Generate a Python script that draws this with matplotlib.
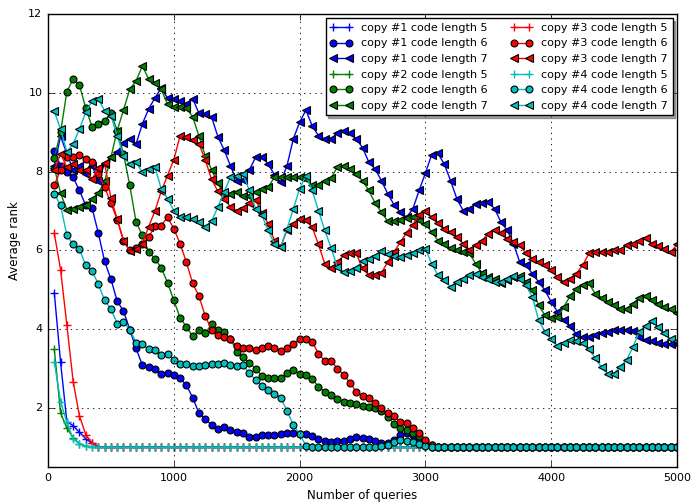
import numpy as np
import matplotlib
matplotlib.use("Agg")
import matplotlib.pyplot as plt

plt.style.use("classic")

# Number of queries at which the average rank was recorded
queries = np.arange(50, 5001, 50)

# ---- copy #1 ----
c1_len5 = [4.92, 3.16, 1.65, 1.55, 1.38, 1.22, 1.10, 1.02] + [1.0] * 92
c1_len6 = ([8.53, 8.15, 8.00, 7.85, 7.52, 7.14, 7.08, 6.44, 5.72, 5.27,
            4.71, 4.46, 3.99, 3.51, 3.09, 3.03, 3.00, 2.86, 2.89, 2.84,
            2.75, 2.58, 2.26, 1.87, 1.71, 1.57, 1.46, 1.51, 1.43, 1.40,
            1.36, 1.26, 1.27, 1.30, 1.32, 1.32, 1.33, 1.36, 1.36, 1.34,
            1.34, 1.28, 1.21, 1.16, 1.14, 1.16, 1.15, 1.21, 1.26, 1.24,
            1.21, 1.16, 1.12, 1.10, 1.18, 1.30, 1.37, 1.30, 1.15, 1.05]
           + [1.0] * 40)
c1_len7 = [8.15, 8.90, 8.45, 8.05, 8.15, 7.95, 8.15, 7.77, 8.20, 8.36,
           8.49, 8.72, 8.83, 8.70, 9.21, 9.59, 9.87, 10.12, 9.87, 9.84,
           9.78, 9.72, 9.85, 9.48, 9.45, 9.39, 8.89, 8.55, 8.15, 7.77,
           7.79, 8.04, 8.36, 8.38, 8.19, 7.92, 7.73, 8.15, 8.83, 9.25,
           9.56, 9.16, 8.91, 8.83, 8.83, 8.97, 9.04, 8.97, 8.83, 8.61,
           8.24, 8.07, 7.77, 7.44, 7.16, 6.97, 6.84, 7.05, 7.52, 7.96,
           8.43, 8.46, 8.19, 7.77, 7.31, 7.01, 7.06, 7.18, 7.20, 7.22,
           7.06, 6.72, 6.51, 6.17, 5.70, 5.62, 5.41, 5.20, 4.99, 4.69,
           4.44, 4.23, 4.08, 3.87, 3.79, 3.81, 3.85, 3.89, 3.92, 3.97,
           3.99, 3.99, 3.96, 3.81, 3.72, 3.69, 3.64, 3.63, 3.62, 3.62]

# ---- copy #2 ----
c2_len5 = [3.49, 1.87, 1.49, 1.24, 1.09, 1.03, 1.01] + [1.0] * 93
c2_len6 = ([8.34, 9.00, 10.03, 10.35, 10.20, 9.61, 9.14, 9.22, 9.29, 9.48,
            9.04, 8.45, 7.65, 6.72, 6.38, 5.96, 5.79, 5.56, 5.18, 4.73,
            4.29, 4.06, 3.82, 3.97, 3.89, 4.13, 3.97, 3.92, 3.76, 3.43,
            3.30, 3.15, 3.00, 2.81, 2.75, 2.77, 2.77, 2.88, 2.96, 2.86,
            2.84, 2.73, 2.54, 2.41, 2.32, 2.23, 2.16, 2.12, 2.09, 2.06,
            2.03, 2.00, 1.93, 1.78, 1.59, 1.49, 1.44, 1.36, 1.28, 1.15,
            1.05] + [1.0] * 39)
c2_len7 = [8.10, 7.45, 7.03, 7.06, 7.11, 7.14, 7.30, 7.45, 7.75, 8.36,
           9.04, 9.56, 10.09, 10.30, 10.68, 10.35, 10.26, 10.09, 9.71, 9.63,
           9.63, 9.61, 9.39, 8.90, 8.40, 8.05, 7.70, 7.44, 7.44, 7.48,
           7.39, 7.39, 7.48, 7.55, 7.60, 7.86, 7.86, 7.86, 7.86, 7.86,
           7.82, 7.65, 7.67, 7.77, 7.84, 8.11, 8.13, 8.07, 7.94, 7.77,
           7.52, 7.20, 6.97, 6.74, 6.74, 6.78, 6.83, 6.84, 6.77, 6.68,
           6.46, 6.25, 6.17, 6.05, 6.00, 5.95, 5.92, 5.66, 5.42, 5.32,
           5.26, 5.16, 5.24, 5.32, 5.36, 5.20, 4.99, 4.61, 4.35, 4.27,
           4.30, 4.56, 4.84, 5.03, 5.11, 5.16, 4.90, 4.80, 4.69, 4.61,
           4.52, 4.52, 4.65, 4.78, 4.84, 4.75, 4.65, 4.56, 4.50, 4.42]

# ---- copy #3 ----
c3_len5 = [6.43, 5.51, 4.10, 2.67, 1.80, 1.32, 1.11, 1.02] + [1.0] * 92
c3_len6 = ([7.65, 8.04, 8.36, 8.38, 8.41, 8.33, 8.25, 7.95, 7.60, 7.20,
            6.78, 6.24, 6.00, 6.05, 6.17, 6.34, 6.61, 6.63, 6.84, 6.55,
            6.17, 5.70, 5.16, 4.84, 4.33, 3.99, 3.85, 3.81, 3.74, 3.57,
            3.53, 3.51, 3.48, 3.51, 3.57, 3.51, 3.44, 3.51, 3.62, 3.75,
            3.74, 3.68, 3.38, 3.20, 3.20, 3.00, 2.84, 2.64, 2.41, 2.30,
            2.25, 2.12, 1.99, 1.87, 1.79, 1.65, 1.62, 1.49, 1.36, 1.19,
            1.05] + [1.0] * 39)
c3_len7 = [8.04, 8.45, 8.11, 8.20, 8.05, 8.03, 7.80, 8.10, 8.21, 7.33,
           6.80, 6.25, 5.98, 6.04, 6.17, 6.60, 7.00, 7.50, 7.90, 8.30,
           8.91, 8.87, 8.80, 8.70, 8.30, 7.80, 7.50, 7.30, 7.11, 7.01,
           7.08, 7.20, 7.28, 6.95, 6.68, 6.25, 6.10, 6.51, 6.68, 6.80,
           6.76, 6.59, 6.15, 5.66, 5.54, 5.70, 5.87, 5.92, 5.92, 5.55,
           5.37, 5.37, 5.42, 5.70, 5.96, 6.20, 6.45, 6.65, 6.89, 7.01,
           6.84, 6.69, 6.55, 6.46, 6.34, 6.17, 6.02, 6.13, 6.25, 6.42,
           6.51, 6.44, 6.30, 6.21, 6.13, 5.92, 5.79, 5.70, 5.62, 5.49,
           5.32, 5.20, 5.28, 5.41, 5.62, 5.92, 5.96, 5.97, 5.97, 6.00,
           6.00, 6.13, 6.17, 6.24, 6.32, 6.17, 6.10, 6.03, 5.95, 6.15]

# ---- copy #4 ----
c4_len5 = [3.17, 2.16, 1.63, 1.21, 1.09, 1.03, 1.01] + [1.0] * 93
c4_len6 = ([7.44, 7.14, 6.38, 6.15, 6.03, 5.62, 5.48, 5.14, 4.73, 4.51,
            4.14, 4.18, 3.99, 3.66, 3.61, 3.49, 3.46, 3.34, 3.37, 3.22,
            3.11, 3.11, 3.06, 3.06, 3.08, 3.11, 3.12, 3.14, 3.09, 3.06,
            3.09, 2.88, 2.71, 2.56, 2.46, 2.35, 2.25, 1.93, 1.57, 1.34,
            1.04, 1.01, 1.02, 1.02, 1.02, 1.02, 1.02, 1.02, 1.02, 1.02,
            1.02, 1.02, 1.03, 1.06, 1.13, 1.19, 1.16, 1.13, 1.09, 1.04]
           + [1.0] * 40)
c4_len7 = [9.53, 9.08, 8.50, 8.70, 9.08, 9.50, 9.80, 9.85, 9.54, 9.42,
           8.91, 8.40, 8.18, 8.24, 7.98, 8.07, 8.12, 7.56, 7.31, 7.01,
           6.84, 6.84, 6.80, 6.72, 6.59, 6.74, 7.10, 7.48, 7.86, 7.90,
           7.94, 7.52, 7.06, 6.89, 6.51, 6.17, 6.08, 6.55, 7.05, 7.56,
           7.90, 7.52, 7.01, 6.51, 6.07, 5.58, 5.45, 5.47, 5.56, 5.73,
           5.79, 5.85, 5.98, 5.90, 5.86, 5.82, 5.88, 5.94, 6.00, 6.04,
           5.66, 5.37, 5.24, 5.07, 5.20, 5.28, 5.37, 5.41, 5.32, 5.28,
           5.20, 5.20, 5.28, 5.34, 5.26, 5.11, 4.82, 4.23, 3.93, 3.74,
           3.57, 3.65, 3.72, 3.69, 3.64, 3.49, 3.26, 3.03, 2.86, 2.87,
           3.05, 3.22, 3.55, 3.93, 4.08, 4.21, 4.06, 3.89, 3.74, 3.70]

copies = [1, 2, 3, 4]
code_lengths = [5, 6, 7]
copy_colors = ["b", "g", "r", "c"]
series = [
    [c1_len5, c1_len6, c1_len7],
    [c2_len5, c2_len6, c2_len7],
    [c3_len5, c3_len6, c3_len7],
    [c4_len5, c4_len6, c4_len7],
]
x_ticks = [0, 1000, 2000, 3000, 4000, 5000]
y_ticks = [2, 4, 6, 8, 10, 12]

fig = plt.figure(figsize=(6.95, 5.03), dpi=100, facecolor="white")
ax = fig.add_axes([48 / 695, 36 / 503, 629 / 695, 453 / 503])
ax.set_facecolor("white")

marker_style = {
    5: dict(marker="+", ms=6, mew=1.0),
    6: dict(marker="o", ms=5, mew=0.8, mec="k"),
    7: dict(marker="<", ms=5.5, mew=0.8, mec="k"),
}

for copy, color, group in zip(copies, copy_colors, series):
    for length, values in zip(code_lengths, group):
        style = dict(marker_style[length])
        style.setdefault("mec", color)
        ax.plot(queries, values, "-", color=color, mfc=color, lw=1.0,
                label=f"copy #{copy} code length {length}", **style)

ax.set_xlim(0, 5000)
ax.set_ylim(0.5, 12)
ax.set_xticks(x_ticks)
ax.set_yticks(y_ticks)
ax.tick_params(labelsize=8, direction="in", top=True, right=True)
ax.grid(True, linestyle=":", color="k", linewidth=0.6)
ax.set_xlabel("Number of queries", fontsize=8.5)
ax.set_ylabel("Average rank", fontsize=8.5)

leg = ax.legend(ncol=2, loc="upper right", fontsize=8, numpoints=2,
                shadow=True, fancybox=False, borderaxespad=0.4,
                handlelength=2.0, handletextpad=0.8, columnspacing=2.0,
                labelspacing=0.5, borderpad=0.4)
leg.get_frame().set_edgecolor("k")
leg.get_frame().set_linewidth(1.0)

fig.savefig("out.png", dpi=100, facecolor="white")
